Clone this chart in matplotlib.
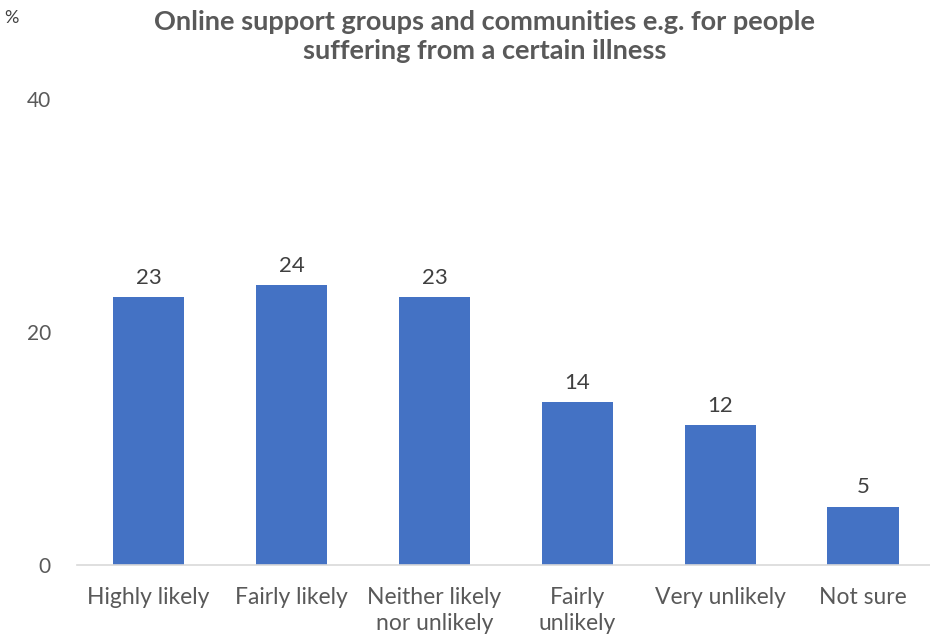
import numpy as np
import matplotlib.pyplot as plt

plt.rcParams['font.family'] = ['Lato', 'DejaVu Sans']

# survey responses, percent
categories = ['Highly likely', 'Fairly likely', 'Neither likely\nnor unlikely',
              'Fairly\nunlikely', 'Very unlikely', 'Not sure']
values = [23, 24, 23, 14, 12, 5]
yticks = [0, 20, 40]

fig = plt.figure(figsize=(9.3, 6.42), dpi=100)
ax = fig.add_axes([0.083, 0.12, 0.922, 0.726])

x = np.arange(len(categories))
bars = ax.bar(x, values, 0.5, color='#4472C4')

for rect, v in zip(bars, values):
    ax.text(rect.get_x() + rect.get_width() / 2., v + 0.8, '%d' % v,
            ha='center', va='bottom', fontsize=16, color='#404040')

ax.set_xlim(-0.5, len(categories) - 0.5)
ax.set_ylim(0, 40)
ax.set_yticks(yticks)
ax.set_xticks(x)
ax.set_xticklabels(categories, fontsize=16.5, color='#595959', linespacing=1.3)
ax.tick_params(axis='y', labelsize=15, labelcolor='#595959', length=0, pad=19)
ax.tick_params(axis='x', length=0, pad=16)

for s in ['top', 'right', 'left']:
    ax.spines[s].set_visible(False)
ax.spines['bottom'].set_color('#D9D9D9')
ax.spines['bottom'].set_linewidth(1.2)

fig.text(0.521, 0.985, 'Online support groups and communities e.g. for people\nsuffering from a certain illness',
         ha='center', va='top', fontsize=19.5, fontweight='bold', color='#595959', linespacing=1.25)
fig.text(0.005, 0.985, '%', ha='left', va='top', fontsize=13, color='#404040')

fig.savefig('out.png', dpi=100)
